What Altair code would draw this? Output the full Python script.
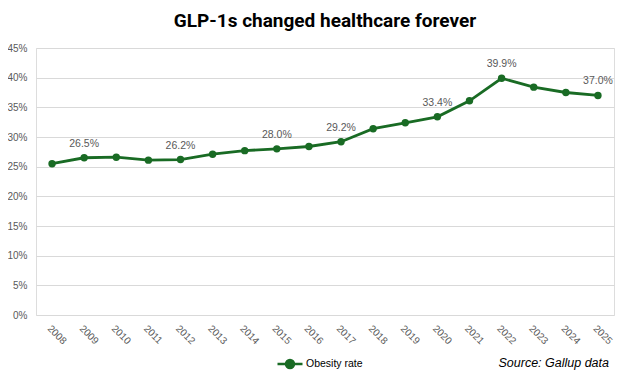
import altair as alt
import pandas as pd

years = [str(y) for y in range(2008, 2026)]
rates = [25.5, 26.5, 26.6, 26.1, 26.2, 27.1, 27.7, 28.0, 28.4, 29.2,
         31.4, 32.4, 33.4, 36.1, 39.9, 38.4, 37.5, 37.0]
labelled_years = ["2009", "2012", "2015", "2017", "2020", "2022", "2025"]
y_ticks = [0, 5, 10, 15, 20, 25, 30, 35, 40, 45]
series_name = "Obesity rate"
title_text = "GLP-1s changed healthcare forever"
source_text = "Source: Gallup data"

df = pd.DataFrame({
    "year": years,
    "rate": [r / 100 for r in rates],
    "series": series_name,
})
df["label"] = [f"{r:.1f}%" if y in labelled_years else "" for y, r in zip(years, rates)]

GREEN = "#196B24"
GREY = "#595959"
FONT = "Liberation Sans"

x_enc = alt.X("year:O", scale=alt.Scale(padding=0.5),
              axis=alt.Axis(title=None, labelAngle=45, ticks=False, domain=False,
                            labelPadding=8, labelFontSize=10, labelColor=GREY,
                            labelFont=FONT, grid=False))
y_enc = alt.Y("rate:Q", scale=alt.Scale(domain=[0, 0.45]),
              axis=alt.Axis(title=None, format=".0%", values=[round(v / 100, 2) for v in y_ticks],
                            ticks=False, domain=False, labelPadding=9, labelFontSize=10,
                            labelOverlap=False, labelBound=False,
                            labelColor=GREY, labelFont=FONT, gridColor="#D9D9D9",
                            gridWidth=1))

base = alt.Chart(df).encode(x=x_enc, y=y_enc)

line = base.mark_line(strokeWidth=2.8).encode(
    color=alt.Color("series:N", scale=alt.Scale(range=[GREEN]),
                    legend=alt.Legend(title=None, orient="none", legendX=240, legendY=302,
                                      symbolType="M-1,0H1M-0.32,0A0.32,0.32 0 1,0 0.32,0A0.32,0.32 0 1,0 -0.32,0",
                                      symbolSize=625, symbolStrokeWidth=2.5,
                                      symbolFillColor=GREEN, symbolStrokeColor=GREEN,
                                      labelFontSize=10.5, labelColor="#000000", labelFont=FONT,
                                      labelOffset=2)),
)
points = base.mark_circle(size=55, opacity=1, color=GREEN)
labels = base.mark_text(dy=-14, fontSize=10.5, color=GREY, font=FONT).encode(text="label:N")
source = alt.Chart(pd.DataFrame({"t": [source_text]})).mark_text(
    align="right", baseline="middle", fontSize=12.5, fontStyle="italic", font=FONT,
    color="#000000").encode(
    x=alt.value(573), y=alt.value(315), text="t:N")

chart = alt.layer(line, points, labels, source).properties(
    width=578, height=267,
    title=alt.TitleParams(title_text, fontSize=19, fontWeight="bold",
                          font="Liberation Sans Narrow, Roboto, sans-serif",
                          anchor="middle", color="#000000", offset=12),
    autosize=alt.AutoSizeParams(type="none"),
    padding={"left": 28, "top": 40, "right": 8, "bottom": 57},
).configure_view(stroke="transparent", strokeWidth=0).configure_axis(
    domain=False, ticks=False
).configure_axisX(grid=False).configure_axisY(
    labelOverlap=False
).configure(background="white")

chart.save("out.html", embed_options={"renderer": "svg", "actions": False})
